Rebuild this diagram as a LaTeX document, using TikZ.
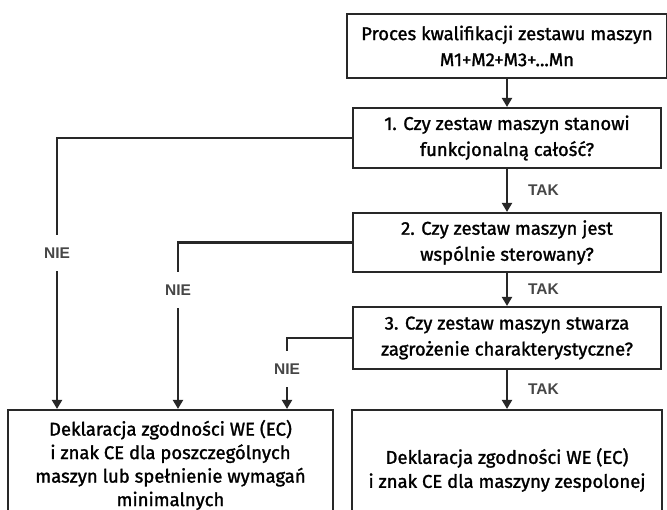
\documentclass[tikz,border=0pt]{standalone}
\usepackage{fontspec}
\setmainfont{Fira Sans}[FakeBold=1.4]
\newfontfamily\labelfont{Liberation Sans}
\usepackage{tikz}
\usetikzlibrary{arrows.meta, positioning}
\usepackage{xcolor}
\definecolor{linegray}{RGB}{40,40,40}
\definecolor{labelgray}{RGB}{70,70,70}

\begin{document}
\begin{tikzpicture}[x=1pt, y=-1pt, >={Triangle[width=10pt, length=9pt]},
    line width=2.1pt,
    box/.style={draw=linegray, line width=2.1pt, align=center,
      font=\fontsize{18.5}{26}\selectfont, inner sep=0pt},
    yesno/.style={font=\labelfont\bfseries\fontsize{15.5}{15.5}\selectfont,
      text=labelgray, inner sep=0pt, minimum height=34pt},
    arr/.style={->, draw=linegray},
    link/.style={draw=linegray}]
  \useasboundingbox (0,0) rectangle (667,510);
  \clip (0,0) rectangle (667,510);

  % Boxes
  \node[box, minimum width=320pt, minimum height=64pt] (start) at (507,46)
    {Proces kwalifikacji zestawu maszyn\\M1+M2+M3+...Mn};
  \node[box, minimum width=308pt, minimum height=60pt] (q1) at (507,138)
    {1. Czy zestaw maszyn stanowi\\funkcjonalną całość?};
  \node[box, minimum width=308pt, minimum height=59pt] (q2) at (507,242.5)
    {2. Czy zestaw maszyn jest\\wspólnie sterowany?};
  \node[box, minimum width=308pt, minimum height=62pt] (q3) at (507,338)
    {3. Czy zestaw maszyn stwarza\\zagrożenie charakterystyczne?};
  \node[box, minimum width=325pt, minimum height=115pt] (resA) at (170.5,467.5) {};
  \node[align=center, font=\fontsize{18.5}{23.5}\selectfont, inner sep=0pt]
    (resAtext) at (170.5,465)
    {Deklaracja zgodności WE (EC)\\i znak CE dla poszczególnych\\maszyn lub spełnienie wymagań\\minimalnych};
  \node[box, minimum width=310pt, minimum height=115pt] (resB) at (507,467.5) {};
  \node[align=center, font=\fontsize{18.5}{24}\selectfont, inner sep=0pt]
    (resBtext) at (507,470)
    {Deklaracja zgodności WE (EC)\\i znak CE dla maszyny zespolonej};

  % Labels NIE
  \node[yesno] (nie1) at (57,253) {NIE};
  \node[yesno] (nie2) at (178,290) {NIE};
  \node[yesno] (nie3) at (287,369) {NIE};

  % Main path (TAK)
  \draw[arr] (start) -- (q1);
  \draw[arr] (q1) -- node[yesno, right=20pt] {TAK} (q2);
  \draw[arr] (q2) -- node[yesno, right=20pt] {TAK} (q3);
  \draw[arr] (q3) -- node[yesno, right=20pt] {TAK} (resB);

  % Side paths (NIE)
  \draw[link] (q1.west) -| (nie1.north);
  \draw[arr] (nie1.south) -- (nie1 |- resA.north);
  \draw[link] (q2.west) -| (nie2.north);
  \draw[arr] (nie2.south) -- (nie2 |- resA.north);
  \draw[link] (q3.west) -| (nie3.north);
  \draw[arr] (nie3.south) -- (nie3 |- resA.north);
\end{tikzpicture}
\end{document}
